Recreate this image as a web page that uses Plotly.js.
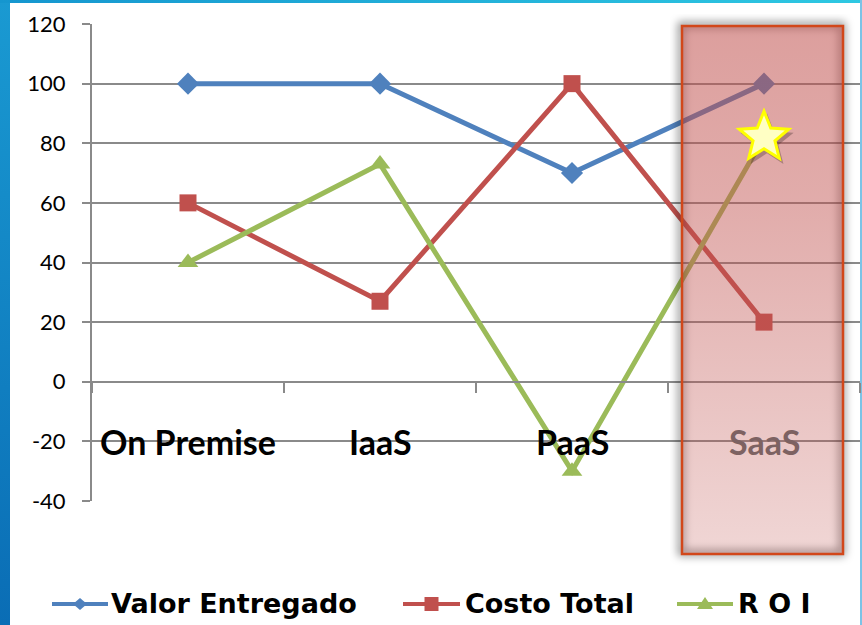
<!DOCTYPE html>
<html>
<head>
<meta charset="utf-8">
<script src="https://cdn.plot.ly/plotly-3.0.1.min.js"></script>
<style>html,body{margin:0;padding:0;background:#fff;}#chart{width:862px;height:625px;}</style>
</head>
<body>
<div id="chart"></div>
<script>
// ---- data ----
var categories = ["On Premise", "IaaS", "PaaS", "SaaS"];
var valorEntregado = [100, 100, 70, 100];
var costoTotal = [60, 27, 100, 20];
var roi = [40, 73, -30, 82];
var seriesNames = ["Valor Entregado", "Costo Total", "R O I"];
var yTicks = [-40, -20, 0, 20, 40, 60, 80, 100, 120];

// ---- styling ----
var BLUE = "#4f81bd", RED = "#c0504d", GREEN = "#9bbb59", GRID = "#8a8a8a";
var FONT = "Lato, 'Open Sans', sans-serif";
var LEGEND_FONT = "'DejaVu Sans', Verdana, sans-serif";
var seriesColors = [BLUE, RED, GREEN];
var seriesSymbols = ["diamond", "square", "triangle-up"];

function svgURI(s) { return "data:image/svg+xml;charset=utf-8," + encodeURIComponent(s); }

// plot area geometry in px: x 92..860, y 24..501
var L = 92, T = 24, W = 768, H = 477;
function px2x(p) { return (p - L) / W; }
function py2y(p) { return (T + H - p) / H; }

// highlight box (gradient + soft shadow + border)
var boxSvg = "<svg xmlns='http://www.w3.org/2000/svg' width='185' height='552' viewBox='0 0 185 552'>" +
  "<defs><linearGradient id='g' x1='0' y1='0' x2='0' y2='1'>" +
  "<stop offset='0' stop-color='rgb(192,80,77)' stop-opacity='0.55'/>" +
  "<stop offset='0.35' stop-color='rgb(192,80,77)' stop-opacity='0.47'/>" +
  "<stop offset='1' stop-color='rgb(192,84,80)' stop-opacity='0.24'/></linearGradient>" +
  "<filter id='b' x='-30%' y='-10%' width='160%' height='120%'><feGaussianBlur stdDeviation='4'/></filter></defs>" +
  "<rect x='11' y='11' width='161' height='528' fill='none' stroke='rgba(0,0,0,0.45)' stroke-width='6' filter='url(#b)'/>" +
  "<rect x='12' y='12' width='161' height='528' fill='url(#g)' stroke='#d2471a' stroke-width='2.5'/>" +
  "</svg>";

var leftSvg = "<svg xmlns='http://www.w3.org/2000/svg' width='10' height='625' preserveAspectRatio='none'>" +
  "<defs><linearGradient id='l' x1='0' y1='0' x2='0' y2='1'><stop offset='0' stop-color='#1a9ad2'/><stop offset='1' stop-color='#0a6db5'/></linearGradient></defs>" +
  "<rect width='10' height='625' fill='url(#l)'/></svg>";
var topSvg = "<svg xmlns='http://www.w3.org/2000/svg' width='862' height='4' preserveAspectRatio='none'>" +
  "<defs><linearGradient id='t' x1='0' y1='0' x2='1' y2='0'><stop offset='0' stop-color='#1596cf'/><stop offset='1' stop-color='#2ec8e2'/></linearGradient></defs>" +
  "<rect width='862' height='4' fill='url(#t)'/></svg>";

function starPath(R, r, dx, dy) {
  var pts = [];
  for (var i = 0; i < 10; i++) {
    var a = Math.PI / 2 + i * Math.PI / 5;
    var rad = (i % 2 === 0) ? R : r;
    pts.push((dx + rad * Math.cos(a)).toFixed(2) + "," + (dy + rad * Math.sin(a)).toFixed(2));
  }
  return "M" + pts.join("L") + "Z";
}
function glyphPath(sym) {
  if (sym === "diamond") return "M-7,0L0,6L7,0L0,-6Z";
  if (sym === "square") return "M-7,-7L7,-7L7,7L-7,7Z";
  return "M-8,-5L8,-5L0,7Z";
}

var traces = [valorEntregado, costoTotal, roi].map(function (vals, i) {
  return {x: categories, y: vals, name: seriesNames[i], type: "scatter", mode: "lines+markers",
    line: {color: seriesColors[i], width: 5},
    marker: {symbol: seriesSymbols[i], size: [17, 17, 18][i], color: seriesColors[i]}};
});

var annotations = categories.map(function (c, i) {
  return {x: c, y: -20, xref: "x", yref: "y", text: c, showarrow: false,
    font: {family: FONT, size: 34, weight: "bold", color: i === 3 ? "#7d6262" : "#000000"}};
});

// custom legend (long symbol lines as in the original)
var legSymStart = [52, 403, 677], legSymEnd = [108, 460, 733], legTextStart = [109, 463, 736], legY = 604;
var shapes = [
  {type: "rect", xref: "paper", yref: "paper", x0: px2x(860), x1: px2x(862), y0: py2y(625), y1: py2y(0),
   fillcolor: "#7cc3e6", line: {width: 0}, layer: "below"}
];
seriesNames.forEach(function (n, i) {
  annotations.push({xref: "paper", yref: "paper", x: px2x(legTextStart[i]), y: py2y(legY), xanchor: "left",
    yanchor: "middle", text: n, showarrow: false,
    font: {family: LEGEND_FONT, size: 27, weight: "bold", color: "#000"}});
  shapes.push({type: "line", xref: "paper", yref: "paper", x0: px2x(legSymStart[i]), x1: px2x(legSymEnd[i]),
    y0: py2y(legY), y1: py2y(legY), line: {color: seriesColors[i], width: 4}, layer: "above"});
  shapes.push({type: "path", xref: "paper", yref: "paper", xsizemode: "pixel", ysizemode: "pixel",
    xanchor: px2x((legSymStart[i] + legSymEnd[i]) / 2), yanchor: py2y(legY), path: glyphPath(seriesSymbols[i]),
    fillcolor: seriesColors[i], line: {width: 0}, layer: "above"});
});
shapes.push({type: "path", xref: "x", yref: "y", xsizemode: "pixel", ysizemode: "pixel", xanchor: 3, yanchor: roi[3],
  path: starPath(28, 12, 3, -4), fillcolor: "rgba(60,40,40,0.33)", line: {width: 0}, layer: "above"});
shapes.push({type: "path", xref: "x", yref: "y", xsizemode: "pixel", ysizemode: "pixel", xanchor: 3, yanchor: roi[3],
  path: starPath(26, 11.5, 0, 0), fillcolor: "#ffffc4", line: {color: "#ffff00", width: 3}, layer: "above"});

var layout = {
  width: 862, height: 625, autosize: false,
  margin: {l: L, r: 862 - L - W, t: T, b: 625 - T - H, pad: 0, autoexpand: false},
  paper_bgcolor: "#ffffff", plot_bgcolor: "rgba(0,0,0,0)",
  font: {family: FONT, color: "#000"},
  showlegend: false,
  xaxis: {type: "category", categoryorder: "array", categoryarray: categories, range: [-0.5, 3.5],
    anchor: "free", position: 0.25, showgrid: false, zeroline: false, showline: true,
    linecolor: GRID, linewidth: 2, ticks: "outside", tickson: "boundaries", ticklen: 10,
    tickwidth: 2, tickcolor: GRID, showticklabels: false, fixedrange: true},
  yaxis: {range: [-40, 120], tickvals: yTicks, ticktext: yTicks.map(String), showgrid: true,
    gridcolor: GRID, gridwidth: 2, zeroline: false, showline: true, linecolor: GRID, linewidth: 2,
    ticks: "outside", ticklen: 8, tickwidth: 2, tickcolor: GRID, ticklabelstandoff: 12,
    tickfont: {family: FONT, size: 22, color: "#000"}, fixedrange: true},
  annotations: annotations,
  images: [
    {source: svgURI(leftSvg), xref: "paper", yref: "paper", x: px2x(0), y: py2y(0), sizex: 10 / W, sizey: 625 / H,
     xanchor: "left", yanchor: "top", sizing: "stretch", layer: "below"},
    {source: svgURI(topSvg), xref: "paper", yref: "paper", x: px2x(0), y: py2y(0), sizex: 862 / W, sizey: 3 / H,
     xanchor: "left", yanchor: "top", sizing: "stretch", layer: "below"},
    {source: svgURI(boxSvg), xref: "paper", yref: "paper", x: px2x(670), y: py2y(14), sizex: 185 / W, sizey: 552 / H,
     xanchor: "left", yanchor: "top", sizing: "stretch", layer: "above"}
  ],
  shapes: shapes
};

Plotly.newPlot("chart", traces, layout, {displayModeBar: false, staticPlot: true});
</script>
</body>
</html>
